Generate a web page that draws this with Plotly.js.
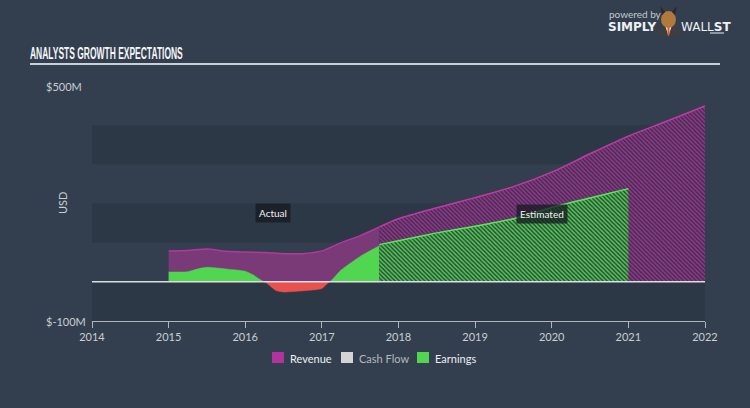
<!DOCTYPE html>
<html>
<head>
<meta charset="utf-8">
<script src="https://cdn.plot.ly/plotly-3.0.1.min.js"></script>
<style>html,body{margin:0;padding:0;background:#333f4e;}#chart{width:750px;height:408px;}</style>
</head>
<body>
<div id="chart"></div>
<script>
// ---- data (USD millions) ----
const revActX = [2015, 2015.25, 2015.5, 2015.75, 2016, 2016.25, 2016.5, 2016.75, 2017, 2017.25, 2017.5, 2017.75];
const revActY = [79, 80, 84, 78, 76, 75, 72, 72, 79, 100, 118, 140];
const revEstX = [2017.75, 2018, 2018.5, 2019, 2019.5, 2020, 2020.5, 2021, 2021.5, 2022];
const revEstY = [140, 161, 189, 215, 243, 280, 327, 372, 410, 449];
const earnActX = [2015, 2015.25, 2015.4, 2015.5, 2015.75, 2016, 2016.1, 2016.25, 2016.4, 2016.5, 2016.75, 2017, 2017.1, 2017.25, 2017.5, 2017.75];
const earnActY = [25, 26, 34, 37, 33, 27, 18, 0, -22, -26, -23, -17, 0, 30, 65, 92];
const earnEstX = [2017.75, 2018, 2018.5, 2019, 2019.5, 2020, 2020.5, 2021];
const earnEstY = [95, 105, 125, 142, 161, 190, 214, 238];
const xTicks = [2014, 2015, 2016, 2017, 2018, 2019, 2020, 2021, 2022];
const yLabels = ['$500M', '$-100M'];
const yLabelVals = [500, -100];
const bandRanges = [[-100, 0], [100, 200], [300, 400]];
const legendNames = ['Revenue', 'Cash Flow', 'Earnings'];

// ---- layout helpers (pixel -> paper) ----
const L = 92, R = 705, T = 86, B = 321;
const px = v => (v - L) / (R - L);
const py = v => (B - v) / (B - T);

const FONT = 'Lato, "Open Sans", sans-serif';
const traces = [
  {x: revActX, y: revActY, type: 'scatter', mode: 'lines', fill: 'tozeroy',
   fillcolor: '#7a3a78', line: {color: '#b4379e', width: 1.5, shape: 'spline', smoothing: 0.8}, hoverinfo: 'skip'},
  {x: revEstX, y: revEstY, type: 'scatter', mode: 'lines', fill: 'tozeroy',
   fillpattern: {shape: '\\', fgcolor: '#9a3494', bgcolor: '#3c3246', size: 3, solidity: 0.5},
   line: {color: '#c03aa8', width: 1.5, shape: 'spline', smoothing: 0.8}, hoverinfo: 'skip'},
  {x: earnActX, y: earnActY.map(v => Math.max(v, 0)), type: 'scatter', mode: 'lines', fill: 'tozeroy',
   fillcolor: '#50d650', line: {color: '#50d650', width: 0.5, shape: 'spline', smoothing: 0.6}, hoverinfo: 'skip'},
  {x: earnActX, y: earnActY.map(v => Math.min(v, 0)), type: 'scatter', mode: 'lines', fill: 'tozeroy',
   fillcolor: '#e8524c', line: {color: '#e8524c', width: 0.5, shape: 'spline', smoothing: 0.6}, hoverinfo: 'skip'},
  {x: earnEstX, y: earnEstY, type: 'scatter', mode: 'lines', fill: 'tozeroy',
   fillpattern: {shape: '\\', fgcolor: '#4fcf4f', bgcolor: '#30463f', size: 3, solidity: 0.5},
   line: {color: '#5ae85a', width: 1.5, shape: 'spline', smoothing: 0.6}, hoverinfo: 'skip'}
];

const shapes = [];
bandRanges.forEach(r => shapes.push({type: 'rect', xref: 'x', yref: 'y', x0: 2014, x1: 2022, y0: r[0], y1: r[1],
  fillcolor: '#2d3846', line: {width: 0}, layer: 'below'}));
// zero line
shapes.push({type: 'line', xref: 'x', yref: 'y', x0: 2014, x1: 2022, y0: 0, y1: 0, line: {color: '#d9dee3', width: 1.5}, layer: 'above'});
// title underline
shapes.push({type: 'line', xref: 'paper', yref: 'paper', x0: px(30), x1: px(720), y0: py(64), y1: py(64), line: {color: '#c8d0d8', width: 2}});
// legend squares
const legColors = ['#b0349c', '#d4d4d4', '#50d650'];
const legX = [272, 341, 417];
legX.forEach((lx, i) => shapes.push({type: 'rect', xref: 'paper', yref: 'paper', x0: px(lx), x1: px(lx + 12), y0: py(363), y1: py(352),
  fillcolor: legColors[i], line: {width: 0}}));
// logo bull (simplified)
shapes.push({type: 'path', xref: 'paper', yref: 'paper',
  path: `M ${px(655)} ${py(37)} L ${px(659)} ${py(25)} L ${px(678)} ${py(25)} L ${px(682)} ${py(37)} Z`,
  fillcolor: '#3d3d44', line: {width: 0}});
shapes.push({type: 'path', xref: 'paper', yref: 'paper',
  path: `M ${px(665)} ${py(25)} L ${px(668.5)} ${py(36)} L ${px(672)} ${py(25)} Z`,
  fillcolor: '#eeeeee', line: {width: 0}});
shapes.push({type: 'circle', xref: 'paper', yref: 'paper', x0: px(661), x1: px(676), y0: py(28), y1: py(11),
  fillcolor: '#b07a3c', line: {width: 0}});
shapes.push({type: 'path', xref: 'paper', yref: 'paper',
  path: `M ${px(662)} ${py(15)} L ${px(660)} ${py(6)} L ${px(665)} ${py(12)} Z M ${px(675)} ${py(15)} L ${px(677)} ${py(6)} L ${px(672)} ${py(12)} Z`,
  fillcolor: '#2a2a2a', line: {width: 0}});
shapes.push({type: 'line', xref: 'paper', yref: 'paper', x0: px(668.5), x1: px(668.5), y0: py(27), y1: py(35), line: {color: '#e05a1a', width: 2}});
shapes.push({type: 'line', xref: 'paper', yref: 'paper', x0: px(710), x1: px(724), y0: py(33), y1: py(33), line: {color: '#e8ecef', width: 1}});

const annotations = [];
yLabels.forEach((t, i) => annotations.push({text: t, xref: 'paper', yref: 'y', x: px(44), y: yLabelVals[i],
  xanchor: 'left', yanchor: 'middle', showarrow: false, font: {family: FONT, size: 11, color: '#c9ced4'}}));
annotations.push({text: 'USD', xref: 'paper', yref: 'paper', x: px(62), y: py(203), textangle: -90,
  xanchor: 'center', yanchor: 'middle', showarrow: false, font: {family: FONT, size: 11, color: '#c9ced4'}});
annotations.push({text: 'Actual', xref: 'paper', yref: 'paper', x: px(273), y: py(213), showarrow: false,
  xanchor: 'center', yanchor: 'middle',
  bgcolor: 'rgba(22,27,34,0.8)', borderpad: 3, font: {family: FONT, size: 10, color: '#f0f0f0'}});
annotations.push({text: 'Estimated', xref: 'paper', yref: 'paper', x: px(541.5), y: py(214), showarrow: false,
  xanchor: 'center', yanchor: 'middle',
  bgcolor: 'rgba(22,27,34,0.75)', borderpad: 3, font: {family: FONT, size: 10, color: '#f0f0f0'}});
const legTextColors = ['#eceff2', '#b4b9be', '#eceff2'];
legendNames.forEach((n, i) => annotations.push({text: n, xref: 'paper', yref: 'paper', x: px(legX[i] + 16), y: py(358),
  xanchor: 'left', yanchor: 'middle', showarrow: false, font: {family: FONT, size: 11, color: legTextColors[i]}}));
// logo text
annotations.push({text: 'powered by', xref: 'paper', yref: 'paper', x: px(607), y: py(14), xanchor: 'left', yanchor: 'middle',
  showarrow: false, font: {family: FONT, size: 10, color: '#c3cad1'}});
annotations.push({text: '<b>SIMPLY</b>', xref: 'paper', yref: 'paper', x: px(606), y: py(27), xanchor: 'left', yanchor: 'middle',
  showarrow: false, font: {family: '"DejaVu Sans", sans-serif', size: 12, color: '#eef1f3'}});
annotations.push({text: 'WALL<b>ST</b>', xref: 'paper', yref: 'paper', x: px(679), y: py(27), xanchor: 'left', yanchor: 'middle',
  showarrow: false, font: {family: '"DejaVu Sans", sans-serif', size: 12, color: '#eef1f3'}});

const layout = {
  width: 750, height: 408,
  paper_bgcolor: '#333f4e', plot_bgcolor: 'rgba(0,0,0,0)',
  margin: {l: L, r: 750 - R, t: T, b: 408 - B, pad: 0},
  showlegend: false,
  title: {text: '<b>ANALYSTS GROWTH EXPECTATIONS</b>', x: 30 / 750, xanchor: 'left', xref: 'container',
    y: 1 - 53 / 408, yanchor: 'middle', yref: 'container',
    font: {family: '"Liberation Sans", Arial, sans-serif', size: 16, color: '#f4f6f8'}},
  xaxis: {range: [2014, 2022], tickvals: xTicks, ticktext: xTicks.map(String), showgrid: false, zeroline: false,
    showline: true, linecolor: '#aeb7c0', linewidth: 1, ticks: 'outside', ticklen: 6, tickcolor: '#aeb7c0',
    tickfont: {family: FONT, size: 11, color: '#c9ced4'}, fixedrange: true},
  yaxis: {range: [-100, 500], showgrid: false, zeroline: false, showticklabels: false, showline: false, fixedrange: true},
  shapes: shapes, annotations: annotations
};
Plotly.newPlot('chart', traces, layout, {displayModeBar: false, staticPlot: true}).then(() => {
  // condense the title horizontally to match the narrow display face
  const t = document.querySelector('.gtitle');
  if (t) {
    const bb = t.getBBox();
    const s = 153 / bb.width;
    t.setAttribute('transform', `translate(${bb.x * (1 - s)},0) scale(${s},1)`);
  }
});
</script>
</body>
</html>
